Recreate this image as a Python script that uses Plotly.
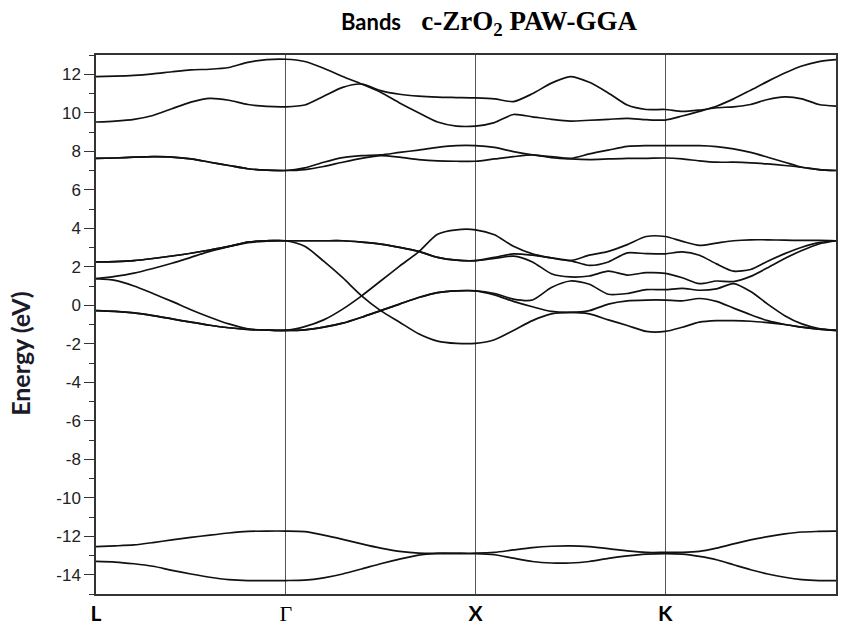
import numpy as np
import plotly.graph_objects as go

# High-symmetry path of the fcc Brillouin zone
sym_labels = ["L", "Γ", "X", "K", "Γ"]
sym_pos = [0.0, 1.0, 2.0, 3.0, 3.9]
n_per_seg = 10

# Energy axis ticks
energy_ticks = list(range(-14, 13, 2))

# Band energies (eV) sampled along L-Γ-X-K-Γ, 10 steps per segment (41 points)
# O 2s bands
band_s1 = [-12.54, -12.50, -12.45, -12.33, -12.19, -12.06, -11.94, -11.83, -11.75, -11.73, -11.73,
           -11.76, -11.94, -12.16, -12.40, -12.62, -12.79, -12.88, -12.88, -12.88, -12.88,
           -12.84, -12.71, -12.59, -12.52, -12.50, -12.54, -12.64, -12.76, -12.84, -12.84,
           -12.84, -12.79, -12.62, -12.40, -12.19, -12.02, -11.88, -11.78, -11.75, -11.73]
band_s2 = [-13.31, -13.34, -13.43, -13.56, -13.77, -13.96, -14.13, -14.25, -14.30, -14.30, -14.30,
           -14.28, -14.16, -13.96, -13.70, -13.43, -13.19, -12.98, -12.91, -12.91, -12.91,
           -12.96, -13.14, -13.31, -13.39, -13.39, -13.31, -13.15, -13.02, -12.93, -12.90,
           -12.93, -13.05, -13.22, -13.48, -13.74, -13.96, -14.13, -14.25, -14.30, -14.30]

# O 2p valence bands
band_v1 = [-0.28, -0.32, -0.40, -0.54, -0.71, -0.88, -1.04, -1.17, -1.26, -1.29, -1.31,
           -1.28, -1.14, -0.93, -0.62, -0.28, 0.06, 0.40, 0.66, 0.75, 0.75,
           0.54, 0.20, -0.08, -0.32, -0.37, -0.28, 0.06, 0.23, 0.27, 0.27,
           0.23, 0.35, 0.20, -0.15, -0.49, -0.80, -1.00, -1.14, -1.24, -1.31]
band_v2 = [-0.28, -0.32, -0.40, -0.54, -0.71, -0.88, -1.04, -1.17, -1.26, -1.29, -1.31,
           -1.28, -1.14, -0.93, -0.62, -0.28, 0.06, 0.40, 0.66, 0.75, 0.75,
           0.61, 0.32, 0.27, 0.92, 1.26, 1.09, 0.57, 0.61, 0.81, 0.81,
           0.88, 0.78, 0.85, 1.12, 0.71, 0.06, -0.54, -0.97, -1.21, -1.31]
band_v3 = [2.25, 2.27, 2.32, 2.43, 2.56, 2.70, 2.87, 3.06, 3.28, 3.35, 3.35,
           3.06, 2.29, 1.43, 0.49, -0.28, -0.88, -1.48, -1.86, -1.98, -1.98,
           -1.79, -1.31, -0.80, -0.45, -0.37, -0.45, -0.76, -1.05, -1.36, -1.36,
           -1.14, -0.88, -0.80, -0.80, -0.83, -0.90, -1.00, -1.14, -1.24, -1.31]
band_v4 = [1.38, 1.29, 1.00, 0.61, 0.20, -0.23, -0.62, -0.97, -1.23, -1.29, -1.31,
           -1.11, -0.76, -0.20, 0.49, 1.26, 2.03, 2.77, 3.69, 3.92, 3.92,
           3.66, 3.06, 2.67, 2.46, 2.32, 2.60, 2.80, 3.15, 3.57, 3.57,
           3.32, 3.11, 3.23, 3.35, 3.40, 3.40, 3.38, 3.37, 3.37, 3.35]
band_v5 = [1.38, 1.50, 1.67, 1.91, 2.18, 2.49, 2.80, 3.04, 3.25, 3.33, 3.35,
           3.35, 3.35, 3.35, 3.28, 3.18, 3.01, 2.80, 2.49, 2.34, 2.32,
           2.43, 2.55, 2.25, 1.64, 1.47, 1.52, 1.77, 1.57, 1.69, 1.66,
           1.43, 1.12, 1.26, 1.23, 1.50, 1.95, 2.43, 2.84, 3.18, 3.35]
band_v6 = [2.25, 2.27, 2.32, 2.43, 2.56, 2.70, 2.87, 3.06, 3.28, 3.35, 3.35,
           3.35, 3.35, 3.35, 3.28, 3.18, 3.01, 2.80, 2.49, 2.34, 2.32,
           2.49, 2.67, 2.60, 2.46, 2.32, 2.07, 2.25, 2.72, 2.68, 2.67,
           2.77, 2.60, 2.15, 1.77, 1.86, 2.29, 2.68, 3.01, 3.25, 3.35]

# Zr 4d conduction bands
band_c1 = [7.63, 7.65, 7.69, 7.72, 7.70, 7.60, 7.43, 7.26, 7.09, 7.02, 7.00,
           7.05, 7.21, 7.43, 7.63, 7.77, 7.69, 7.57, 7.50, 7.48, 7.48,
           7.60, 7.72, 7.81, 7.67, 7.60, 7.57, 7.60, 7.63, 7.63, 7.65,
           7.60, 7.50, 7.43, 7.43, 7.40, 7.34, 7.26, 7.17, 7.05, 7.00]
band_c2 = [7.63, 7.65, 7.69, 7.72, 7.70, 7.60, 7.43, 7.26, 7.09, 7.02, 7.00,
           7.14, 7.43, 7.67, 7.77, 7.81, 7.94, 8.06, 8.20, 8.29, 8.29,
           8.20, 7.98, 7.82, 7.72, 7.63, 7.86, 8.06, 8.25, 8.29, 8.29,
           8.29, 8.29, 8.24, 8.12, 7.94, 7.69, 7.43, 7.17, 7.05, 7.00]
band_c3 = [9.52, 9.57, 9.66, 9.86, 10.21, 10.55, 10.75, 10.65, 10.43, 10.33, 10.31,
           10.40, 10.86, 11.32, 11.49, 11.15, 10.96, 10.86, 10.81, 10.79, 10.77,
           10.72, 10.58, 10.99, 11.54, 11.88, 11.58, 11.03, 10.40, 10.17, 10.17,
           10.07, 10.14, 10.26, 10.31, 10.43, 10.69, 10.82, 10.72, 10.43, 10.34]
band_c4 = [11.88, 11.90, 11.94, 12.02, 12.13, 12.23, 12.26, 12.35, 12.62, 12.76, 12.78,
           12.66, 12.31, 11.88, 11.49, 11.06, 10.51, 10.00, 9.52, 9.31, 9.31,
           9.49, 9.91, 9.79, 9.66, 9.57, 9.61, 9.66, 9.71, 9.64, 9.62,
           9.83, 10.07, 10.34, 10.72, 11.17, 11.63, 12.06, 12.43, 12.66, 12.76]

bands = [band_s1, band_s2, band_v1, band_v2, band_v3, band_v4, band_v5, band_v6,
         band_c1, band_c2, band_c3, band_c4]

# k-coordinate of every sample along the path
kpath = np.concatenate(
    [np.linspace(sym_pos[i], sym_pos[i + 1], n_per_seg + 1)[(0 if i == 0 else 1):]
     for i in range(len(sym_pos) - 1)]
)

fig = go.Figure()
for b in bands:
    fig.add_trace(go.Scatter(
        x=kpath, y=b, mode="lines",
        line=dict(color="#111111", width=1.7, shape="spline", smoothing=0.7),
        hoverinfo="skip", showlegend=False,
    ))

sans = "Lato, Liberation Sans, sans-serif"
serif = "Liberation Serif, Times New Roman, serif"

tick_text = []
for lab in sym_labels:
    if lab == "Γ":
        tick_text.append('<span style="font-family:Liberation Serif;font-weight:normal;font-size:22px">Γ</span>')
    else:
        tick_text.append(f"<b>{lab}</b>")

fig.update_xaxes(
    range=[sym_pos[0], sym_pos[-1]],
    tickmode="array", tickvals=sym_pos, ticktext=tick_text,
    tickfont=dict(family=sans, size=21, color="#000000"),
    ticks="", showgrid=True, gridcolor="#555555", gridwidth=1,
    showline=True, mirror=True, linecolor="#333333", linewidth=1.5,
    zeroline=False,
)
fig.update_yaxes(
    range=[-15, 13],
    tickmode="array", tickvals=energy_ticks, ticktext=[str(v) for v in energy_ticks],
    ticks="outside", ticklen=10, tickwidth=1.2, tickcolor="#333333",
    minor=dict(ticks="outside", ticklen=5, tickwidth=1.2, tickcolor="#333333", dtick=1, tick0=0),
    tickfont=dict(family="Liberation Sans, Arial, sans-serif", size=17, color="#222222"),
    showgrid=False, zeroline=False,
    showline=True, mirror=True, linecolor="#333333", linewidth=1.5,
)

# Energy axis title
fig.add_annotation(
    xref="paper", yref="paper", x=-0.103, y=0.447, xanchor="center", yanchor="middle",
    text="<b>Energy (eV)</b>", textangle=-90,
    font=dict(family=sans, size=25, color="#1a1a2a"),
    showarrow=False,
)

# Chart title
fig.add_annotation(
    xref="paper", yref="paper", x=0.531, y=1.06, xanchor="center", yanchor="middle",
    text=('<span style="font-family:Lato;font-size:22px"><b>Bands</b></span>'
          "&nbsp;&nbsp;&nbsp;<b>c-ZrO<sub>2</sub> PAW-GGA</b>"),
    font=dict(family=serif, size=27, color="#000000"),
    showarrow=False,
)

fig.update_layout(
    width=842, height=630,
    margin=dict(l=96, r=4, t=55, b=28),
    paper_bgcolor="white", plot_bgcolor="white",
)

fig.write_html("out.html")
